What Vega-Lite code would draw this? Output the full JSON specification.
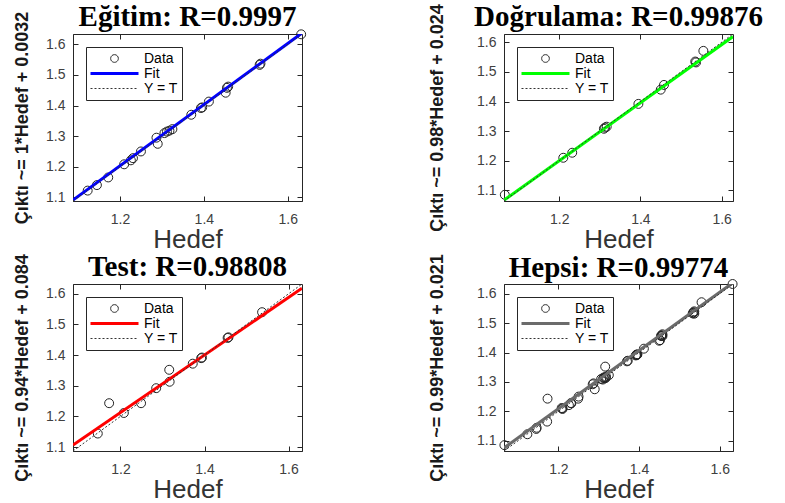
{
  "$schema": "https://vega.github.io/schema/vega-lite/v6.json",
  "padding": {"left": 13, "top": 2, "right": 5, "bottom": 0},
  "datasets": {
    "egitim": [
      {"series": "Data", "hedef": 1.632, "cikti": 1.633},
      {"series": "Data", "hedef": 1.535, "cikti": 1.537},
      {"series": "Data", "hedef": 1.533, "cikti": 1.533},
      {"series": "Data", "hedef": 1.455, "cikti": 1.458},
      {"series": "Data", "hedef": 1.458, "cikti": 1.462},
      {"series": "Data", "hedef": 1.452, "cikti": 1.442},
      {"series": "Data", "hedef": 1.412, "cikti": 1.413},
      {"series": "Data", "hedef": 1.393, "cikti": 1.392},
      {"series": "Data", "hedef": 1.396, "cikti": 1.394},
      {"series": "Data", "hedef": 1.370, "cikti": 1.370},
      {"series": "Data", "hedef": 1.325, "cikti": 1.323},
      {"series": "Data", "hedef": 1.318, "cikti": 1.318},
      {"series": "Data", "hedef": 1.312, "cikti": 1.315},
      {"series": "Data", "hedef": 1.306, "cikti": 1.310},
      {"series": "Data", "hedef": 1.287, "cikti": 1.295},
      {"series": "Data", "hedef": 1.290, "cikti": 1.275},
      {"series": "Data", "hedef": 1.250, "cikti": 1.250},
      {"series": "Data", "hedef": 1.231, "cikti": 1.228},
      {"series": "Data", "hedef": 1.226, "cikti": 1.221},
      {"series": "Data", "hedef": 1.210, "cikti": 1.208},
      {"series": "Data", "hedef": 1.172, "cikti": 1.165},
      {"series": "Data", "hedef": 1.145, "cikti": 1.140},
      {"series": "Data", "hedef": 1.123, "cikti": 1.122},
      {"series": "Fit", "hedef": 1.088, "cikti": 1.0912},
      {"series": "Fit", "hedef": 1.634, "cikti": 1.6372},
      {"series": "Y = T", "hedef": 1.088, "cikti": 1.088},
      {"series": "Y = T", "hedef": 1.634, "cikti": 1.634}
    ],
    "dogrulama": [
      {"series": "Data", "hedef": 1.066, "cikti": 1.085},
      {"series": "Data", "hedef": 1.210, "cikti": 1.210},
      {"series": "Data", "hedef": 1.232, "cikti": 1.227},
      {"series": "Data", "hedef": 1.310, "cikti": 1.308},
      {"series": "Data", "hedef": 1.313, "cikti": 1.312},
      {"series": "Data", "hedef": 1.317, "cikti": 1.315},
      {"series": "Data", "hedef": 1.395, "cikti": 1.392},
      {"series": "Data", "hedef": 1.450, "cikti": 1.440},
      {"series": "Data", "hedef": 1.458, "cikti": 1.456},
      {"series": "Data", "hedef": 1.535, "cikti": 1.535},
      {"series": "Data", "hedef": 1.537, "cikti": 1.532},
      {"series": "Data", "hedef": 1.555, "cikti": 1.571},
      {"series": "Fit", "hedef": 1.064, "cikti": 1.0667},
      {"series": "Fit", "hedef": 1.628, "cikti": 1.6194},
      {"series": "Y = T", "hedef": 1.064, "cikti": 1.064},
      {"series": "Y = T", "hedef": 1.628, "cikti": 1.628}
    ],
    "test": [
      {"series": "Data", "hedef": 1.146, "cikti": 1.144},
      {"series": "Data", "hedef": 1.173, "cikti": 1.243},
      {"series": "Data", "hedef": 1.208, "cikti": 1.211},
      {"series": "Data", "hedef": 1.249, "cikti": 1.243},
      {"series": "Data", "hedef": 1.285, "cikti": 1.292},
      {"series": "Data", "hedef": 1.317, "cikti": 1.313},
      {"series": "Data", "hedef": 1.316, "cikti": 1.352},
      {"series": "Data", "hedef": 1.372, "cikti": 1.372},
      {"series": "Data", "hedef": 1.394, "cikti": 1.392},
      {"series": "Data", "hedef": 1.392, "cikti": 1.390},
      {"series": "Data", "hedef": 1.457, "cikti": 1.458},
      {"series": "Data", "hedef": 1.455, "cikti": 1.456},
      {"series": "Data", "hedef": 1.537, "cikti": 1.540},
      {"series": "Fit", "hedef": 1.087, "cikti": 1.1062},
      {"series": "Fit", "hedef": 1.632, "cikti": 1.6181},
      {"series": "Y = T", "hedef": 1.087, "cikti": 1.087},
      {"series": "Y = T", "hedef": 1.632, "cikti": 1.632}
    ],
    "hepsi": [
      {"series": "Data", "hedef": 1.632, "cikti": 1.633},
      {"series": "Data", "hedef": 1.535, "cikti": 1.537},
      {"series": "Data", "hedef": 1.533, "cikti": 1.533},
      {"series": "Data", "hedef": 1.455, "cikti": 1.458},
      {"series": "Data", "hedef": 1.458, "cikti": 1.462},
      {"series": "Data", "hedef": 1.452, "cikti": 1.442},
      {"series": "Data", "hedef": 1.412, "cikti": 1.413},
      {"series": "Data", "hedef": 1.393, "cikti": 1.392},
      {"series": "Data", "hedef": 1.396, "cikti": 1.394},
      {"series": "Data", "hedef": 1.370, "cikti": 1.370},
      {"series": "Data", "hedef": 1.325, "cikti": 1.323},
      {"series": "Data", "hedef": 1.318, "cikti": 1.318},
      {"series": "Data", "hedef": 1.312, "cikti": 1.315},
      {"series": "Data", "hedef": 1.306, "cikti": 1.310},
      {"series": "Data", "hedef": 1.287, "cikti": 1.295},
      {"series": "Data", "hedef": 1.290, "cikti": 1.275},
      {"series": "Data", "hedef": 1.250, "cikti": 1.250},
      {"series": "Data", "hedef": 1.231, "cikti": 1.228},
      {"series": "Data", "hedef": 1.226, "cikti": 1.221},
      {"series": "Data", "hedef": 1.210, "cikti": 1.208},
      {"series": "Data", "hedef": 1.172, "cikti": 1.165},
      {"series": "Data", "hedef": 1.145, "cikti": 1.140},
      {"series": "Data", "hedef": 1.123, "cikti": 1.122},
      {"series": "Data", "hedef": 1.066, "cikti": 1.085},
      {"series": "Data", "hedef": 1.210, "cikti": 1.210},
      {"series": "Data", "hedef": 1.232, "cikti": 1.227},
      {"series": "Data", "hedef": 1.310, "cikti": 1.308},
      {"series": "Data", "hedef": 1.313, "cikti": 1.312},
      {"series": "Data", "hedef": 1.317, "cikti": 1.315},
      {"series": "Data", "hedef": 1.395, "cikti": 1.392},
      {"series": "Data", "hedef": 1.450, "cikti": 1.440},
      {"series": "Data", "hedef": 1.458, "cikti": 1.456},
      {"series": "Data", "hedef": 1.535, "cikti": 1.535},
      {"series": "Data", "hedef": 1.537, "cikti": 1.532},
      {"series": "Data", "hedef": 1.555, "cikti": 1.571},
      {"series": "Data", "hedef": 1.146, "cikti": 1.144},
      {"series": "Data", "hedef": 1.173, "cikti": 1.243},
      {"series": "Data", "hedef": 1.208, "cikti": 1.211},
      {"series": "Data", "hedef": 1.249, "cikti": 1.243},
      {"series": "Data", "hedef": 1.285, "cikti": 1.292},
      {"series": "Data", "hedef": 1.317, "cikti": 1.313},
      {"series": "Data", "hedef": 1.316, "cikti": 1.352},
      {"series": "Data", "hedef": 1.372, "cikti": 1.372},
      {"series": "Data", "hedef": 1.394, "cikti": 1.392},
      {"series": "Data", "hedef": 1.392, "cikti": 1.390},
      {"series": "Data", "hedef": 1.457, "cikti": 1.458},
      {"series": "Data", "hedef": 1.455, "cikti": 1.456},
      {"series": "Data", "hedef": 1.537, "cikti": 1.540},
      {"series": "Fit", "hedef": 1.065, "cikti": 1.0754},
      {"series": "Fit", "hedef": 1.633, "cikti": 1.6377},
      {"series": "Y = T", "hedef": 1.065, "cikti": 1.065},
      {"series": "Y = T", "hedef": 1.633, "cikti": 1.633}
    ]
  },
  "columns": 2,
  "spacing": {"row": 83, "column": 202},
  "bounds": "flush",
  "resolve": {"scale": {"color": "independent"}, "legend": {"color": "independent"}},
  "concat": [
    {
      "width": 229, "height": 167,
      "title": {"text": "Eğitim: R=0.9997", "offset": -21},
      "data": {"name": "egitim"},
      "layer": [
        {
          "transform": [{"filter": "datum.series === 'Data'"}],
          "mark": {"type": "point", "filled": false, "opacity": 1, "size": 80, "strokeWidth": 1},
          "encoding": {
            "x": {"field": "hedef", "type": "quantitative", "scale": {"domain": [1.088, 1.634], "zero": false, "nice": false}, "axis": {"values": [1.2, 1.4, 1.6], "format": ".1f", "title": "Hedef"}},
            "y": {"field": "cikti", "type": "quantitative", "scale": {"domain": [1.088, 1.634], "zero": false, "nice": false}, "axis": {"values": [1.1, 1.2, 1.3, 1.4, 1.5, 1.6], "format": ".1f", "title": "Çıktı ~= 1*Hedef + 0.0032", "titlePadding": 14}},
            "color": {"field": "series", "type": "nominal", "scale": {"domain": ["Data", "Fit", "Y = T"], "range": ["#222222", "#0000ff", "#333333"]},
              "legend": {"title": null, "orient": "top-left", "offset": 13, "columns": 1, "strokeColor": "#262626", "fillColor": "white", "padding": 4, "labelFont": "Liberation Sans", "labelFontSize": 14, "labelColor": "#000", "symbolSize": 2304, "clipHeight": 15, "rowPadding": 0, "labelOffset": 5,
                "symbolType": {"expr": "(datum.value === 'Data' ? 'M0.16,0A0.16,0.16,0,1,1,-0.16,0A0.16,0.16,0,1,1,0.16,0Z' : 'stroke')"},
                "symbolDash": {"expr": "(datum.value === 'Y = T' ? [2, 2] : [1, 0])"},
                "symbolStrokeWidth": {"expr": "(datum.value === 'Fit' ? 3 : 1)"},
                "symbolFillColor": "transparent", "symbolOpacity": 1}}
          }
        },
        {
          "transform": [{"filter": "datum.series === 'Fit'"}],
          "mark": {"type": "line", "strokeWidth": 3, "clip": true},
          "encoding": {
            "x": {"field": "hedef", "type": "quantitative", "scale": {"domain": [1.088, 1.634], "zero": false, "nice": false}, "axis": null},
            "y": {"field": "cikti", "type": "quantitative", "scale": {"domain": [1.088, 1.634], "zero": false, "nice": false}, "axis": null},
            "color": {"field": "series", "type": "nominal", "legend": null}
          }
        },
        {
          "transform": [{"filter": "datum.series === 'Y = T'"}],
          "mark": {"type": "line", "strokeWidth": 1, "strokeDash": [2, 2], "clip": true},
          "encoding": {
            "x": {"field": "hedef", "type": "quantitative", "scale": {"domain": [1.088, 1.634], "zero": false, "nice": false}, "axis": {"orient": "top", "values": [1.2, 1.4, 1.6], "labels": false, "title": null, "domain": false}},
            "y": {"field": "cikti", "type": "quantitative", "scale": {"domain": [1.088, 1.634], "zero": false, "nice": false}, "axis": {"orient": "right", "values": [1.1, 1.2, 1.3, 1.4, 1.5, 1.6], "labels": false, "title": null, "domain": false}},
            "color": {"field": "series", "type": "nominal", "legend": null}
          }
        }
      ],
      "resolve": {"axis": {"x": "independent", "y": "independent"}}
    },
    {
      "width": 229, "height": 167,
      "title": {"text": "Doğrulama: R=0.99876", "offset": -28},
      "data": {"name": "dogrulama"},
      "layer": [
        {
          "transform": [{"filter": "datum.series === 'Data'"}],
          "mark": {"type": "point", "filled": false, "opacity": 1, "size": 80, "strokeWidth": 1},
          "encoding": {
            "x": {"field": "hedef", "type": "quantitative", "scale": {"domain": [1.064, 1.628], "zero": false, "nice": false}, "axis": {"values": [1.2, 1.4, 1.6], "format": ".1f", "title": "Hedef"}},
            "y": {"field": "cikti", "type": "quantitative", "scale": {"domain": [1.064, 1.628], "zero": false, "nice": false}, "axis": {"values": [1.1, 1.2, 1.3, 1.4, 1.5, 1.6], "format": ".1f", "title": "Çıktı ~= 0.98*Hedef + 0.024", "titlePadding": 30}},
            "color": {"field": "series", "type": "nominal", "scale": {"domain": ["Data", "Fit", "Y = T"], "range": ["#222222", "#00ff00", "#333333"]},
              "legend": {"title": null, "orient": "top-left", "offset": 13, "columns": 1, "strokeColor": "#262626", "fillColor": "white", "padding": 4, "labelFont": "Liberation Sans", "labelFontSize": 14, "labelColor": "#000", "symbolSize": 2304, "clipHeight": 15, "rowPadding": 0, "labelOffset": 5,
                "symbolType": {"expr": "(datum.value === 'Data' ? 'M0.16,0A0.16,0.16,0,1,1,-0.16,0A0.16,0.16,0,1,1,0.16,0Z' : 'stroke')"},
                "symbolDash": {"expr": "(datum.value === 'Y = T' ? [2, 2] : [1, 0])"},
                "symbolStrokeWidth": {"expr": "(datum.value === 'Fit' ? 3 : 1)"},
                "symbolFillColor": "transparent", "symbolOpacity": 1}}
          }
        },
        {
          "transform": [{"filter": "datum.series === 'Fit'"}],
          "mark": {"type": "line", "strokeWidth": 3, "clip": true},
          "encoding": {
            "x": {"field": "hedef", "type": "quantitative", "scale": {"domain": [1.064, 1.628], "zero": false, "nice": false}, "axis": null},
            "y": {"field": "cikti", "type": "quantitative", "scale": {"domain": [1.064, 1.628], "zero": false, "nice": false}, "axis": null},
            "color": {"field": "series", "type": "nominal", "legend": null}
          }
        },
        {
          "transform": [{"filter": "datum.series === 'Y = T'"}],
          "mark": {"type": "line", "strokeWidth": 1, "strokeDash": [2, 2], "clip": true},
          "encoding": {
            "x": {"field": "hedef", "type": "quantitative", "scale": {"domain": [1.064, 1.628], "zero": false, "nice": false}, "axis": {"orient": "top", "values": [1.2, 1.4, 1.6], "labels": false, "title": null, "domain": false}},
            "y": {"field": "cikti", "type": "quantitative", "scale": {"domain": [1.064, 1.628], "zero": false, "nice": false}, "axis": {"orient": "right", "values": [1.1, 1.2, 1.3, 1.4, 1.5, 1.6], "labels": false, "title": null, "domain": false}},
            "color": {"field": "series", "type": "nominal", "legend": null}
          }
        }
      ],
      "resolve": {"axis": {"x": "independent", "y": "independent"}}
    },
    {
      "width": 229, "height": 167,
      "title": {"text": "Test: R=0.98808", "offset": -28},
      "data": {"name": "test"},
      "layer": [
        {
          "transform": [{"filter": "datum.series === 'Data'"}],
          "mark": {"type": "point", "filled": false, "opacity": 1, "size": 80, "strokeWidth": 1},
          "encoding": {
            "x": {"field": "hedef", "type": "quantitative", "scale": {"domain": [1.087, 1.632], "zero": false, "nice": false}, "axis": {"values": [1.2, 1.4, 1.6], "format": ".1f", "title": "Hedef"}},
            "y": {"field": "cikti", "type": "quantitative", "scale": {"domain": [1.087, 1.632], "zero": false, "nice": false}, "axis": {"values": [1.1, 1.2, 1.3, 1.4, 1.5, 1.6], "format": ".1f", "title": "Çıktı ~= 0.94*Hedef + 0.084", "titlePadding": 14}},
            "color": {"field": "series", "type": "nominal", "scale": {"domain": ["Data", "Fit", "Y = T"], "range": ["#222222", "#ff0000", "#333333"]},
              "legend": {"title": null, "orient": "top-left", "offset": 13, "columns": 1, "strokeColor": "#262626", "fillColor": "white", "padding": 4, "labelFont": "Liberation Sans", "labelFontSize": 14, "labelColor": "#000", "symbolSize": 2304, "clipHeight": 15, "rowPadding": 0, "labelOffset": 5,
                "symbolType": {"expr": "(datum.value === 'Data' ? 'M0.16,0A0.16,0.16,0,1,1,-0.16,0A0.16,0.16,0,1,1,0.16,0Z' : 'stroke')"},
                "symbolDash": {"expr": "(datum.value === 'Y = T' ? [2, 2] : [1, 0])"},
                "symbolStrokeWidth": {"expr": "(datum.value === 'Fit' ? 3 : 1)"},
                "symbolFillColor": "transparent", "symbolOpacity": 1}}
          }
        },
        {
          "transform": [{"filter": "datum.series === 'Fit'"}],
          "mark": {"type": "line", "strokeWidth": 3, "clip": true},
          "encoding": {
            "x": {"field": "hedef", "type": "quantitative", "scale": {"domain": [1.087, 1.632], "zero": false, "nice": false}, "axis": null},
            "y": {"field": "cikti", "type": "quantitative", "scale": {"domain": [1.087, 1.632], "zero": false, "nice": false}, "axis": null},
            "color": {"field": "series", "type": "nominal", "legend": null}
          }
        },
        {
          "transform": [{"filter": "datum.series === 'Y = T'"}],
          "mark": {"type": "line", "strokeWidth": 1, "strokeDash": [2, 2], "clip": true},
          "encoding": {
            "x": {"field": "hedef", "type": "quantitative", "scale": {"domain": [1.087, 1.632], "zero": false, "nice": false}, "axis": {"orient": "top", "values": [1.2, 1.4, 1.6], "labels": false, "title": null, "domain": false}},
            "y": {"field": "cikti", "type": "quantitative", "scale": {"domain": [1.087, 1.632], "zero": false, "nice": false}, "axis": {"orient": "right", "values": [1.1, 1.2, 1.3, 1.4, 1.5, 1.6], "labels": false, "title": null, "domain": false}},
            "color": {"field": "series", "type": "nominal", "legend": null}
          }
        }
      ],
      "resolve": {"axis": {"x": "independent", "y": "independent"}}
    },
    {
      "width": 229, "height": 167,
      "title": {"text": "Hepsi: R=0.99774", "offset": -29},
      "data": {"name": "hepsi"},
      "layer": [
        {
          "transform": [{"filter": "datum.series === 'Data'"}],
          "mark": {"type": "point", "filled": false, "opacity": 1, "size": 80, "strokeWidth": 1},
          "encoding": {
            "x": {"field": "hedef", "type": "quantitative", "scale": {"domain": [1.065, 1.633], "zero": false, "nice": false}, "axis": {"values": [1.2, 1.4, 1.6], "format": ".1f", "title": "Hedef"}},
            "y": {"field": "cikti", "type": "quantitative", "scale": {"domain": [1.065, 1.633], "zero": false, "nice": false}, "axis": {"values": [1.1, 1.2, 1.3, 1.4, 1.5, 1.6], "format": ".1f", "title": "Çıktı ~= 0.99*Hedef + 0.021", "titlePadding": 30}},
            "color": {"field": "series", "type": "nominal", "scale": {"domain": ["Data", "Fit", "Y = T"], "range": ["#222222", "#6b6b6b", "#333333"]},
              "legend": {"title": null, "orient": "top-left", "offset": 13, "columns": 1, "strokeColor": "#262626", "fillColor": "white", "padding": 4, "labelFont": "Liberation Sans", "labelFontSize": 14, "labelColor": "#000", "symbolSize": 2304, "clipHeight": 15, "rowPadding": 0, "labelOffset": 5,
                "symbolType": {"expr": "(datum.value === 'Data' ? 'M0.16,0A0.16,0.16,0,1,1,-0.16,0A0.16,0.16,0,1,1,0.16,0Z' : 'stroke')"},
                "symbolDash": {"expr": "(datum.value === 'Y = T' ? [2, 2] : [1, 0])"},
                "symbolStrokeWidth": {"expr": "(datum.value === 'Fit' ? 3 : 1)"},
                "symbolFillColor": "transparent", "symbolOpacity": 1}}
          }
        },
        {
          "transform": [{"filter": "datum.series === 'Fit'"}],
          "mark": {"type": "line", "strokeWidth": 3, "clip": true},
          "encoding": {
            "x": {"field": "hedef", "type": "quantitative", "scale": {"domain": [1.065, 1.633], "zero": false, "nice": false}, "axis": null},
            "y": {"field": "cikti", "type": "quantitative", "scale": {"domain": [1.065, 1.633], "zero": false, "nice": false}, "axis": null},
            "color": {"field": "series", "type": "nominal", "legend": null}
          }
        },
        {
          "transform": [{"filter": "datum.series === 'Y = T'"}],
          "mark": {"type": "line", "strokeWidth": 1, "strokeDash": [2, 2], "clip": true},
          "encoding": {
            "x": {"field": "hedef", "type": "quantitative", "scale": {"domain": [1.065, 1.633], "zero": false, "nice": false}, "axis": {"orient": "top", "values": [1.2, 1.4, 1.6], "labels": false, "title": null, "domain": false}},
            "y": {"field": "cikti", "type": "quantitative", "scale": {"domain": [1.065, 1.633], "zero": false, "nice": false}, "axis": {"orient": "right", "values": [1.1, 1.2, 1.3, 1.4, 1.5, 1.6], "labels": false, "title": null, "domain": false}},
            "color": {"field": "series", "type": "nominal", "legend": null}
          }
        }
      ],
      "resolve": {"axis": {"x": "independent", "y": "independent"}}
    }
  ],
  "config": {
    "view": {"stroke": "#262626", "strokeWidth": 1},
    "font": "Liberation Sans",
    "axis": {"grid": false, "domainColor": "#262626", "tickColor": "#262626", "tickSize": -5, "labelFont": "Liberation Sans", "labelFontSize": 14, "labelColor": "#404040", "labelFlush": false, "labelOverlap": false, "titleFont": "Liberation Sans", "titleColor": "#333333", "titleFontWeight": "normal"},
    "axisX": {"labelPadding": 16, "titlePadding": 0, "titleFontSize": 26},
    "axisY": {"labelPadding": 13, "titleFontSize": 18, "titleFontWeight": "bold", "titleColor": "#1a1a1a"},
    "title": {"font": "Liberation Serif", "fontSize": 29, "fontWeight": "bold", "color": "#000000"}
  }
}
